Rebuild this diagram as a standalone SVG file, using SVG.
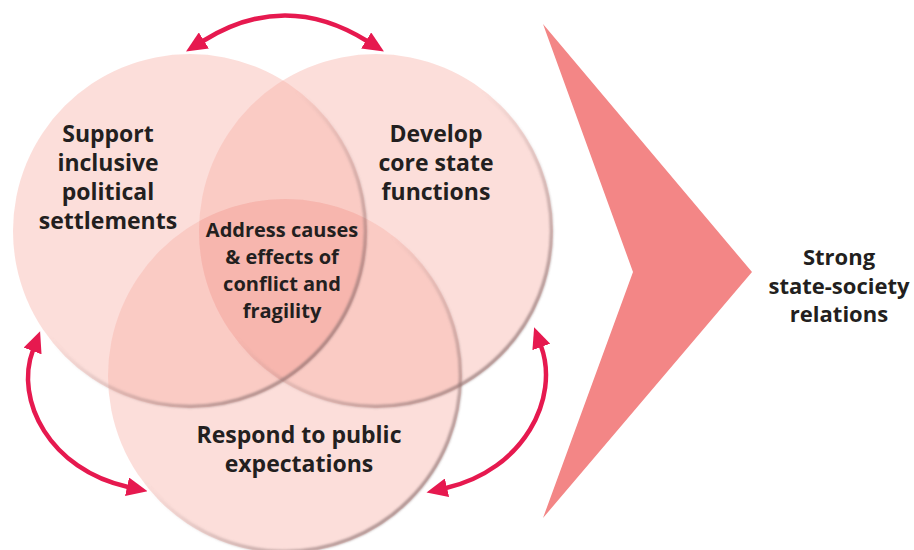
<svg xmlns="http://www.w3.org/2000/svg" width="914" height="550" viewBox="0 0 914 550">
  <defs>
    <style>
      .circle { fill: #f7b0a8; fill-opacity: 0.42; }
      .rim { fill: none; stroke-width: 3.5; filter: url(#soft); }
      .label { font-family: "Open Sans", "Liberation Sans", sans-serif; font-weight: 700; fill: #231f20; text-anchor: middle; }
      .outer { font-size: 23px; }
      .inner { font-size: 20px; }
      .out { font-size: 22px; }
      .arrow { fill: none; stroke: #e6194f; stroke-width: 4.5; stroke-linecap: butt; marker-start: url(#head); marker-end: url(#head); }
    </style>
    <linearGradient id="rimGrad" x1="0" y1="0" x2="1" y2="1">
      <stop offset="0" stop-color="#ffffff" stop-opacity="0"/>
      <stop offset="0.45" stop-color="#9a8080" stop-opacity="0"/>
      <stop offset="0.8" stop-color="#8a7070" stop-opacity="0.6"/>
      <stop offset="1" stop-color="#7a6060" stop-opacity="0.75"/>
    </linearGradient>
    <filter id="soft" x="-10%" y="-10%" width="120%" height="120%">
      <feGaussianBlur stdDeviation="1.1"/>
    </filter>
    <clipPath id="clipLeft"><circle cx="190" cy="231" r="177"/></clipPath>
    <clipPath id="clipRight"><circle cx="376" cy="231" r="177"/></clipPath>
    <marker id="head" viewBox="0 0 21 19" refX="1" refY="9.5" markerWidth="21" markerHeight="19" markerUnits="userSpaceOnUse" orient="auto-start-reverse">
      <path d="M0,0 L21,9.5 L0,19 Z" fill="#e6194f"/>
    </marker>
  </defs>

  <g id="chevron">
    <polygon points="543,24 752,272 543,518 633,272" fill="#f38686"/>
  </g>

  <g id="node-left">
    <circle class="circle" cx="190" cy="231" r="177"/>
  </g>
  <g id="node-right">
    <circle class="circle" cx="376" cy="231" r="177"/>
  </g>
  <g id="node-bottom">
    <circle class="circle" cx="285" cy="376" r="177"/>
  </g>
  <g id="node-center">
    <g clip-path="url(#clipLeft)">
      <g clip-path="url(#clipRight)">
        <circle cx="285" cy="376" r="177" fill="#f08a84" fill-opacity="0.18"/>
      </g>
    </g>
  </g>

  <g id="rims">
    <circle class="rim" cx="190" cy="231" r="175.5" stroke="url(#rimGrad)"/>
    <circle class="rim" cx="376" cy="231" r="175.5" stroke="url(#rimGrad)"/>
    <circle class="rim" cx="285" cy="376" r="175.5" stroke="url(#rimGrad)"/>
  </g>

  <g id="labels">
    <text class="label outer" x="108" y="142">Support</text>
    <text class="label outer" x="108" y="171">inclusive</text>
    <text class="label outer" x="108" y="200">political</text>
    <text class="label outer" x="108" y="229">settlements</text>

    <text class="label outer" x="436" y="142">Develop</text>
    <text class="label outer" x="436" y="171">core state</text>
    <text class="label outer" x="436" y="200">functions</text>

    <text class="label inner" x="282" y="237">Address causes</text>
    <text class="label inner" x="282" y="264">&amp; effects of</text>
    <text class="label inner" x="282" y="291">conflict and</text>
    <text class="label inner" x="282" y="318">fragility</text>

    <text class="label outer" x="299" y="443">Respond to public</text>
    <text class="label outer" x="299" y="472">expectations</text>
  </g>

  <g id="outcome">
    <text class="label out" x="839" y="265">Strong</text>
    <text class="label out" x="839" y="294">state-society</text>
    <text class="label out" x="839" y="322">relations</text>
  </g>

  <g id="connectors">
    <path class="arrow" d="M203,41 Q285,-10 367,41"/>
    <path class="arrow" d="M33,350 C14,400 50,470 128,487"/>
    <path class="arrow" d="M541,346 C560,398 524,470 446,488"/>
  </g>
</svg>
